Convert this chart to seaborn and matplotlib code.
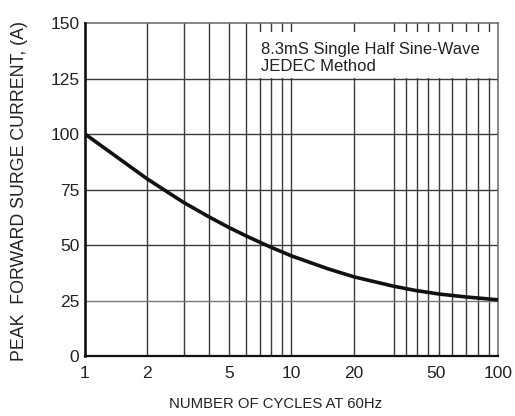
import numpy as np
import pandas as pd
import seaborn as sns
import matplotlib.pyplot as plt
from matplotlib.ticker import FixedLocator, NullFormatter

# values
cycles = [1, 2, 3, 4, 5, 6, 7, 8, 10, 15, 20, 31, 40, 52, 70, 90, 100]
current = [100, 79.8, 69.2, 62.6, 57.8, 54.2, 51.3, 48.9, 45.1, 39.3, 35.7,
           31.5, 29.5, 27.9, 26.6, 25.7, 25.3]

x_ticks = [1, 2, 5, 10, 20, 50, 100]
x_ticklabels = ['1', '2', '5', '10', '20', '50', '100']
y_ticks = [0, 25, 50, 75, 100, 125, 150]

# vertical grid as drawn in the original (second decade is unevenly ruled)
grid_x = [2, 3, 4, 5, 6, 7, 8, 9, 10, 20, 31.3, 35.8, 40.4, 45.7, 51.9, 60, 70, 80, 90]
grid_y = [25, 50, 75, 100, 125]

note = '8.3mS Single Half Sine-Wave\nJEDEC Method'

df = pd.DataFrame({'cycles': cycles, 'current': current})

sns.set_style("white")
plt.rcParams['font.family'] = ['Liberation Sans', 'DejaVu Sans']

fig = plt.figure(figsize=(5.15, 4.16), dpi=100)
ax = fig.add_axes([0.165, 0.1442, 0.802, 0.8005])

for gx in grid_x:
    ax.axvline(gx, color='#3a3a3a', lw=1.0, zorder=1)
for gy in grid_y:
    ax.axhline(gy, color='#777777' if gy == 25 else '#3a3a3a', lw=1.0, zorder=1)

sns.lineplot(data=df, x='cycles', y='current', color='#111111', lw=2.6, ax=ax, zorder=4)

ax.set_xscale('log')
ax.set_xlim(1, 100)
ax.set_ylim(0, 150)
ax.xaxis.set_major_locator(FixedLocator(x_ticks))
ax.set_xticklabels(x_ticklabels)
ax.xaxis.set_minor_formatter(NullFormatter())
ax.set_yticks(y_ticks)

for lab in ax.get_xticklabels() + ax.get_yticklabels():
    lab.set_fontsize(12.5)
    lab.set_color('#222222')
ax.tick_params(axis='both', which='both', length=0)
ax.tick_params(axis='x', pad=7)
ax.tick_params(axis='y', pad=4)

for side in ('top', 'right'):
    ax.spines[side].set_color('#666666')
    ax.spines[side].set_linewidth(1.1)
ax.spines['left'].set_linewidth(1.9)
ax.spines['bottom'].set_linewidth(1.6)
for side in ('left', 'bottom'):
    ax.spines[side].set_color('#111111')
    ax.spines[side].set_zorder(5)

ax.set_xlabel('NUMBER OF CYCLES AT 60Hz', fontsize=10.7, color='#222222')
ax.set_ylabel('PEAK  FORWARD SURGE CURRENT, (A)', fontsize=12.8, color='#222222')
ax.xaxis.set_label_coords(0.462, -0.123)
ax.yaxis.set_label_coords(-0.138, 0.495)

# white note panel in the upper right, grid stubs stay visible above it
ax.axvspan(6.44, 100, ymin=0.835, ymax=0.973, facecolor='white', edgecolor='none', zorder=2)
ax.text(7.12, 134.2, note, fontsize=12, va='center', ha='left',
        linespacing=1.2, color='#222222', zorder=3)

plt.savefig('out.png', dpi=100)
